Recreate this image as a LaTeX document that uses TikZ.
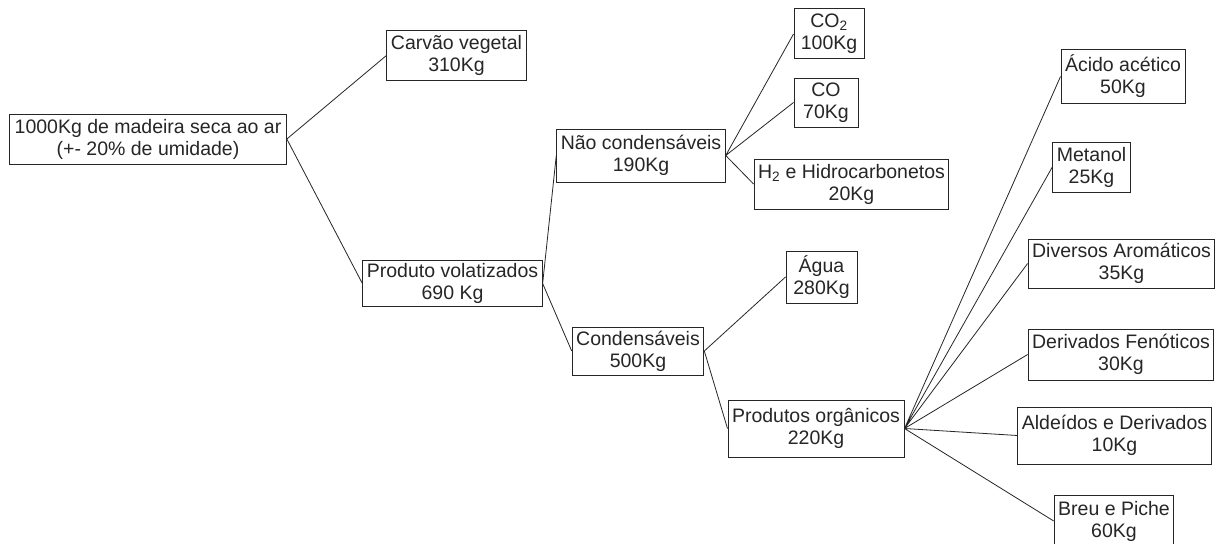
\documentclass[tikz,border=0pt]{standalone}
\usepackage{fontspec}
\setmainfont{Liberation Sans}
\usepackage{xcolor}
\usepackage{tikz}

\begin{document}
\begin{tikzpicture}[
    x=1pt,y=-1pt,
    box/.style={draw=black!85,line width=1pt,align=center,text=black!85,
      font=\fontsize{19.5}{22}\selectfont,inner xsep=4pt,minimum height=50pt},
    link/.style={draw=black!85,line width=0.8pt}
  ]
    \useasboundingbox[fill=white] (0,0) rectangle (1225,543);
    % raw material and first split
    \node[box,inner xsep=5pt] (wood) at (148,139) {1000Kg de madeira seca ao ar\\(+- 20\% de umidade)};
    \node[box] (carvao) at (456.5,55.5) {Carvão vegetal\\310Kg};
    \node[box,minimum height=45pt] (prodvol) at (452.5,283.5) {Produto volatizados\\690 Kg};
    % volatiles
    \node[box,minimum height=53pt] (naocond) at (641,155.5) {Não condensáveis\\190Kg};
    \node[box,minimum height=48pt] (cond) at (638,351) {Condensáveis\\500Kg};
    \node[box,minimum width=70pt] (co2) at (829,34) {CO\textsubscript{2}\\100Kg};
    \node[box,minimum width=64pt,minimum height=49pt] (co) at (826,102.5) {CO\\70Kg};
    \node[box] (h2) at (851.5,184) {H\textsubscript{2} e Hidrocarbonetos\\20Kg};
    \node[box,minimum width=71pt,minimum height=52pt] (agua) at (821.5,277) {Água\\280Kg};
    \node[box,minimum height=57pt] (org) at (816,428.5) {Produtos orgânicos\\220Kg};
    % organic products
    \node[box,minimum height=53pt] (acido) at (1123,76.5) {Ácido acético\\50Kg};
    \node[box] (metanol) at (1091.5,167) {Metanol\\25Kg};
    \node[box,minimum height=49pt] (arom) at (1121.5,263.5) {Diversos Aromáticos\\35Kg};
    \node[box,minimum height=51pt] (fenol) at (1121,354.5) {Derivados Fenóticos\\30Kg};
    \node[box,minimum height=57pt] (aldeid) at (1114.5,435.5) {Aldeídos e Derivados\\10Kg};
    \node[box,minimum height=52pt] (breu) at (1114,521) {Breu e Piche\\60Kg};

    \draw[link] (wood.east) -- (carvao.west) (wood.east) -- (prodvol.west);
    \draw[link] (prodvol.east) -- (naocond.west) (prodvol.east) -- (cond.west);
    \draw[link] (naocond.east) -- (co2.west) (naocond.east) -- (co.west) (naocond.east) -- (h2.west);
    \draw[link] (cond.east) -- (agua.west) (cond.east) -- (org.west);
    \draw[link] (org.east) -- (acido.west) (org.east) -- (metanol.west) (org.east) -- (arom.west)
      (org.east) -- (fenol.west) (org.east) -- (aldeid.west) (org.east) -- (breu.west);
  \end{tikzpicture}
\end{document}
